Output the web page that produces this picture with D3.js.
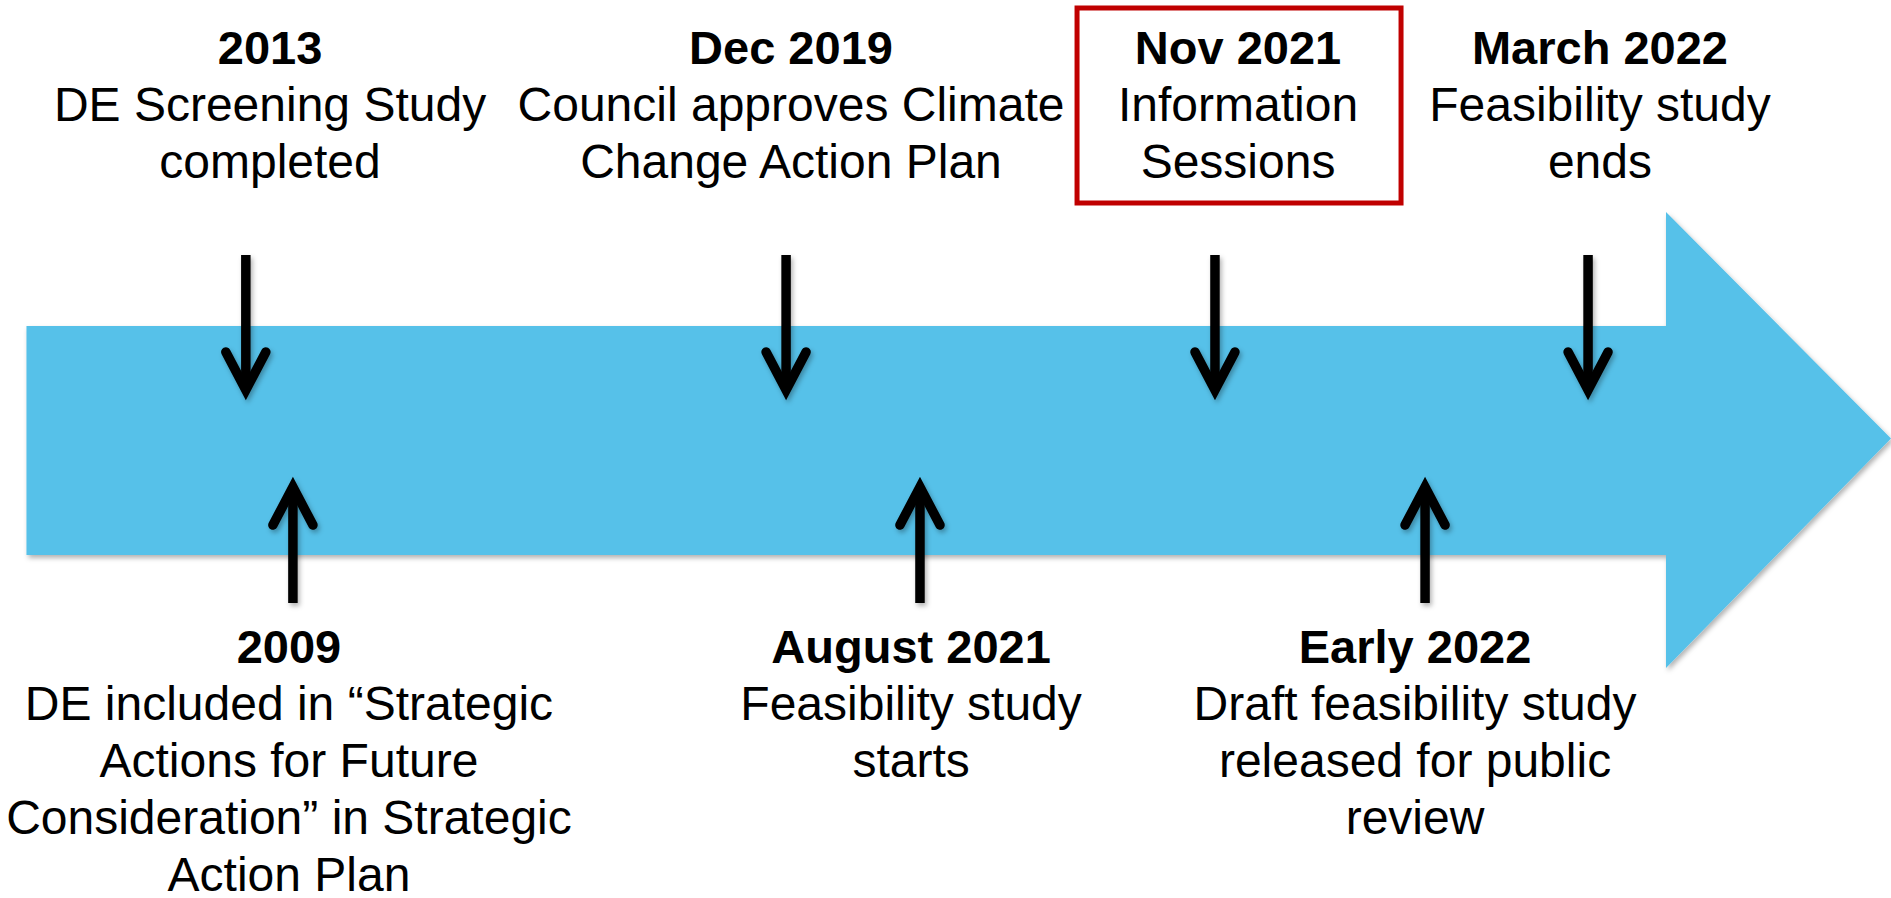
<!DOCTYPE html>
<html>
<head>
<meta charset="utf-8">
<script src="https://cdn.jsdelivr.net/npm/d3@7"></script>
<style>
  html, body { margin: 0; padding: 0; background: #fff; }
  svg { display: block; }
  text { font-family: "Liberation Sans", Arial, sans-serif; fill: #000; }
</style>
</head>
<body>
<div id="chart"></div>
<script>
// Milestones above the timeline (position = % along the page width)
const topTitles = ["2013", "Dec 2019", "Nov 2021", "March 2022"];
const topLines = [
    ["DE Screening Study", "completed"],
    ["Council approves Climate", "Change Action Plan"],
    ["Information", "Sessions"],
    ["Feasibility study", "ends"]
];
const topArrowPos = [13.0, 41.57, 64.25, 83.98];
const topLabelPos = [14.28, 41.83, 65.47, 84.61];
const topHighlight = [false, false, true, false];

// Milestones below the timeline
const bottomTitles = ["2009", "August 2021", "Early 2022"];
const bottomLines = [
    ["DE included in \u201cStrategic", "Actions for Future", "Consideration\u201d in Strategic", "Action Plan"],
    ["Feasibility study", "starts"],
    ["Draft feasibility study", "released for public", "review"]
];
const bottomArrowPos = [15.49, 48.65, 75.36];
const bottomLabelPos = [15.28, 48.18, 74.83];

const width = 1891;
const height = 898;
const lineGap = 57;

const x = d3.scaleLinear().domain([0, 100]).range([0, width]);

const svg = d3.select("#chart")
    .append("svg")
    .attr("width", width)
    .attr("height", height);

const defs = svg.append("defs");
defs.append("filter")
    .attr("id", "shadow")
    .attr("x", "-10%").attr("y", "-10%")
    .attr("width", "120%").attr("height", "130%")
    .append("feDropShadow")
    .attr("dx", 2).attr("dy", 3)
    .attr("stdDeviation", 2.5)
    .attr("flood-color", "#000")
    .attr("flood-opacity", 0.3);

// Big timeline arrow
const shaftTop = 326, shaftBottom = 555, headTop = 212, headBottom = 668;
const notchX = 1666, tipX = width, tipY = (shaftTop + shaftBottom) / 2 - 2;
svg.append("path")
    .attr("d", d3.line()([
        [x(1.4), shaftTop], [notchX, shaftTop], [notchX, headTop],
        [tipX, tipY], [notchX, headBottom], [notchX, shaftBottom],
        [x(1.4), shaftBottom]
    ]) + "Z")
    .attr("fill", "#56C1E9")
    .attr("filter", "url(#shadow)");

// Small black arrows
const drawArrow = (g, cx, y0, y1) => {
    const dir = y1 > y0 ? 1 : -1;
    g.append("path")
        .attr("d", d3.line()([[cx, y0], [cx, y1 - dir * 6]]))
        .attr("stroke", "#000")
        .attr("stroke-width", 9.5)
        .attr("fill", "none");
    g.append("path")
        .attr("d", d3.line()([[cx - 20, y1 - dir * 40], [cx, y1 - dir * 2], [cx + 20, y1 - dir * 40]]))
        .attr("stroke", "#000")
        .attr("stroke-width", 9.5)
        .attr("stroke-linecap", "round")
        .attr("stroke-linejoin", "miter")
        .attr("stroke-miterlimit", 10)
        .attr("fill", "none");
};

const arrows = svg.append("g").attr("filter", "url(#shadow)");
topArrowPos.forEach(p => drawArrow(arrows, x(p), 255, 392));
bottomArrowPos.forEach(p => drawArrow(arrows, x(p), 603, 485));

// Labels
const drawLabel = (cx, baseline, title, lines) => {
    const t = svg.append("text")
        .attr("text-anchor", "middle")
        .attr("x", cx)
        .attr("y", baseline);
    t.append("tspan")
        .attr("x", cx)
        .attr("font-weight", "bold")
        .attr("font-size", 47)
        .text(title);
    lines.forEach(line => {
        t.append("tspan")
            .attr("x", cx)
            .attr("dy", lineGap)
            .attr("font-size", 48)
            .text(line);
    });
};

topTitles.forEach((title, i) => {
    drawLabel(x(topLabelPos[i]), 64, title, topLines[i]);
    if (topHighlight[i]) {
        svg.append("rect")
            .attr("x", x(topLabelPos[i]) - 161)
            .attr("y", 8)
            .attr("width", 324)
            .attr("height", 195)
            .attr("fill", "none")
            .attr("stroke", "#C00000")
            .attr("stroke-width", 5);
    }
});

bottomTitles.forEach((title, i) => {
    drawLabel(x(bottomLabelPos[i]), 663, title, bottomLines[i]);
});
</script>
</body>
</html>
